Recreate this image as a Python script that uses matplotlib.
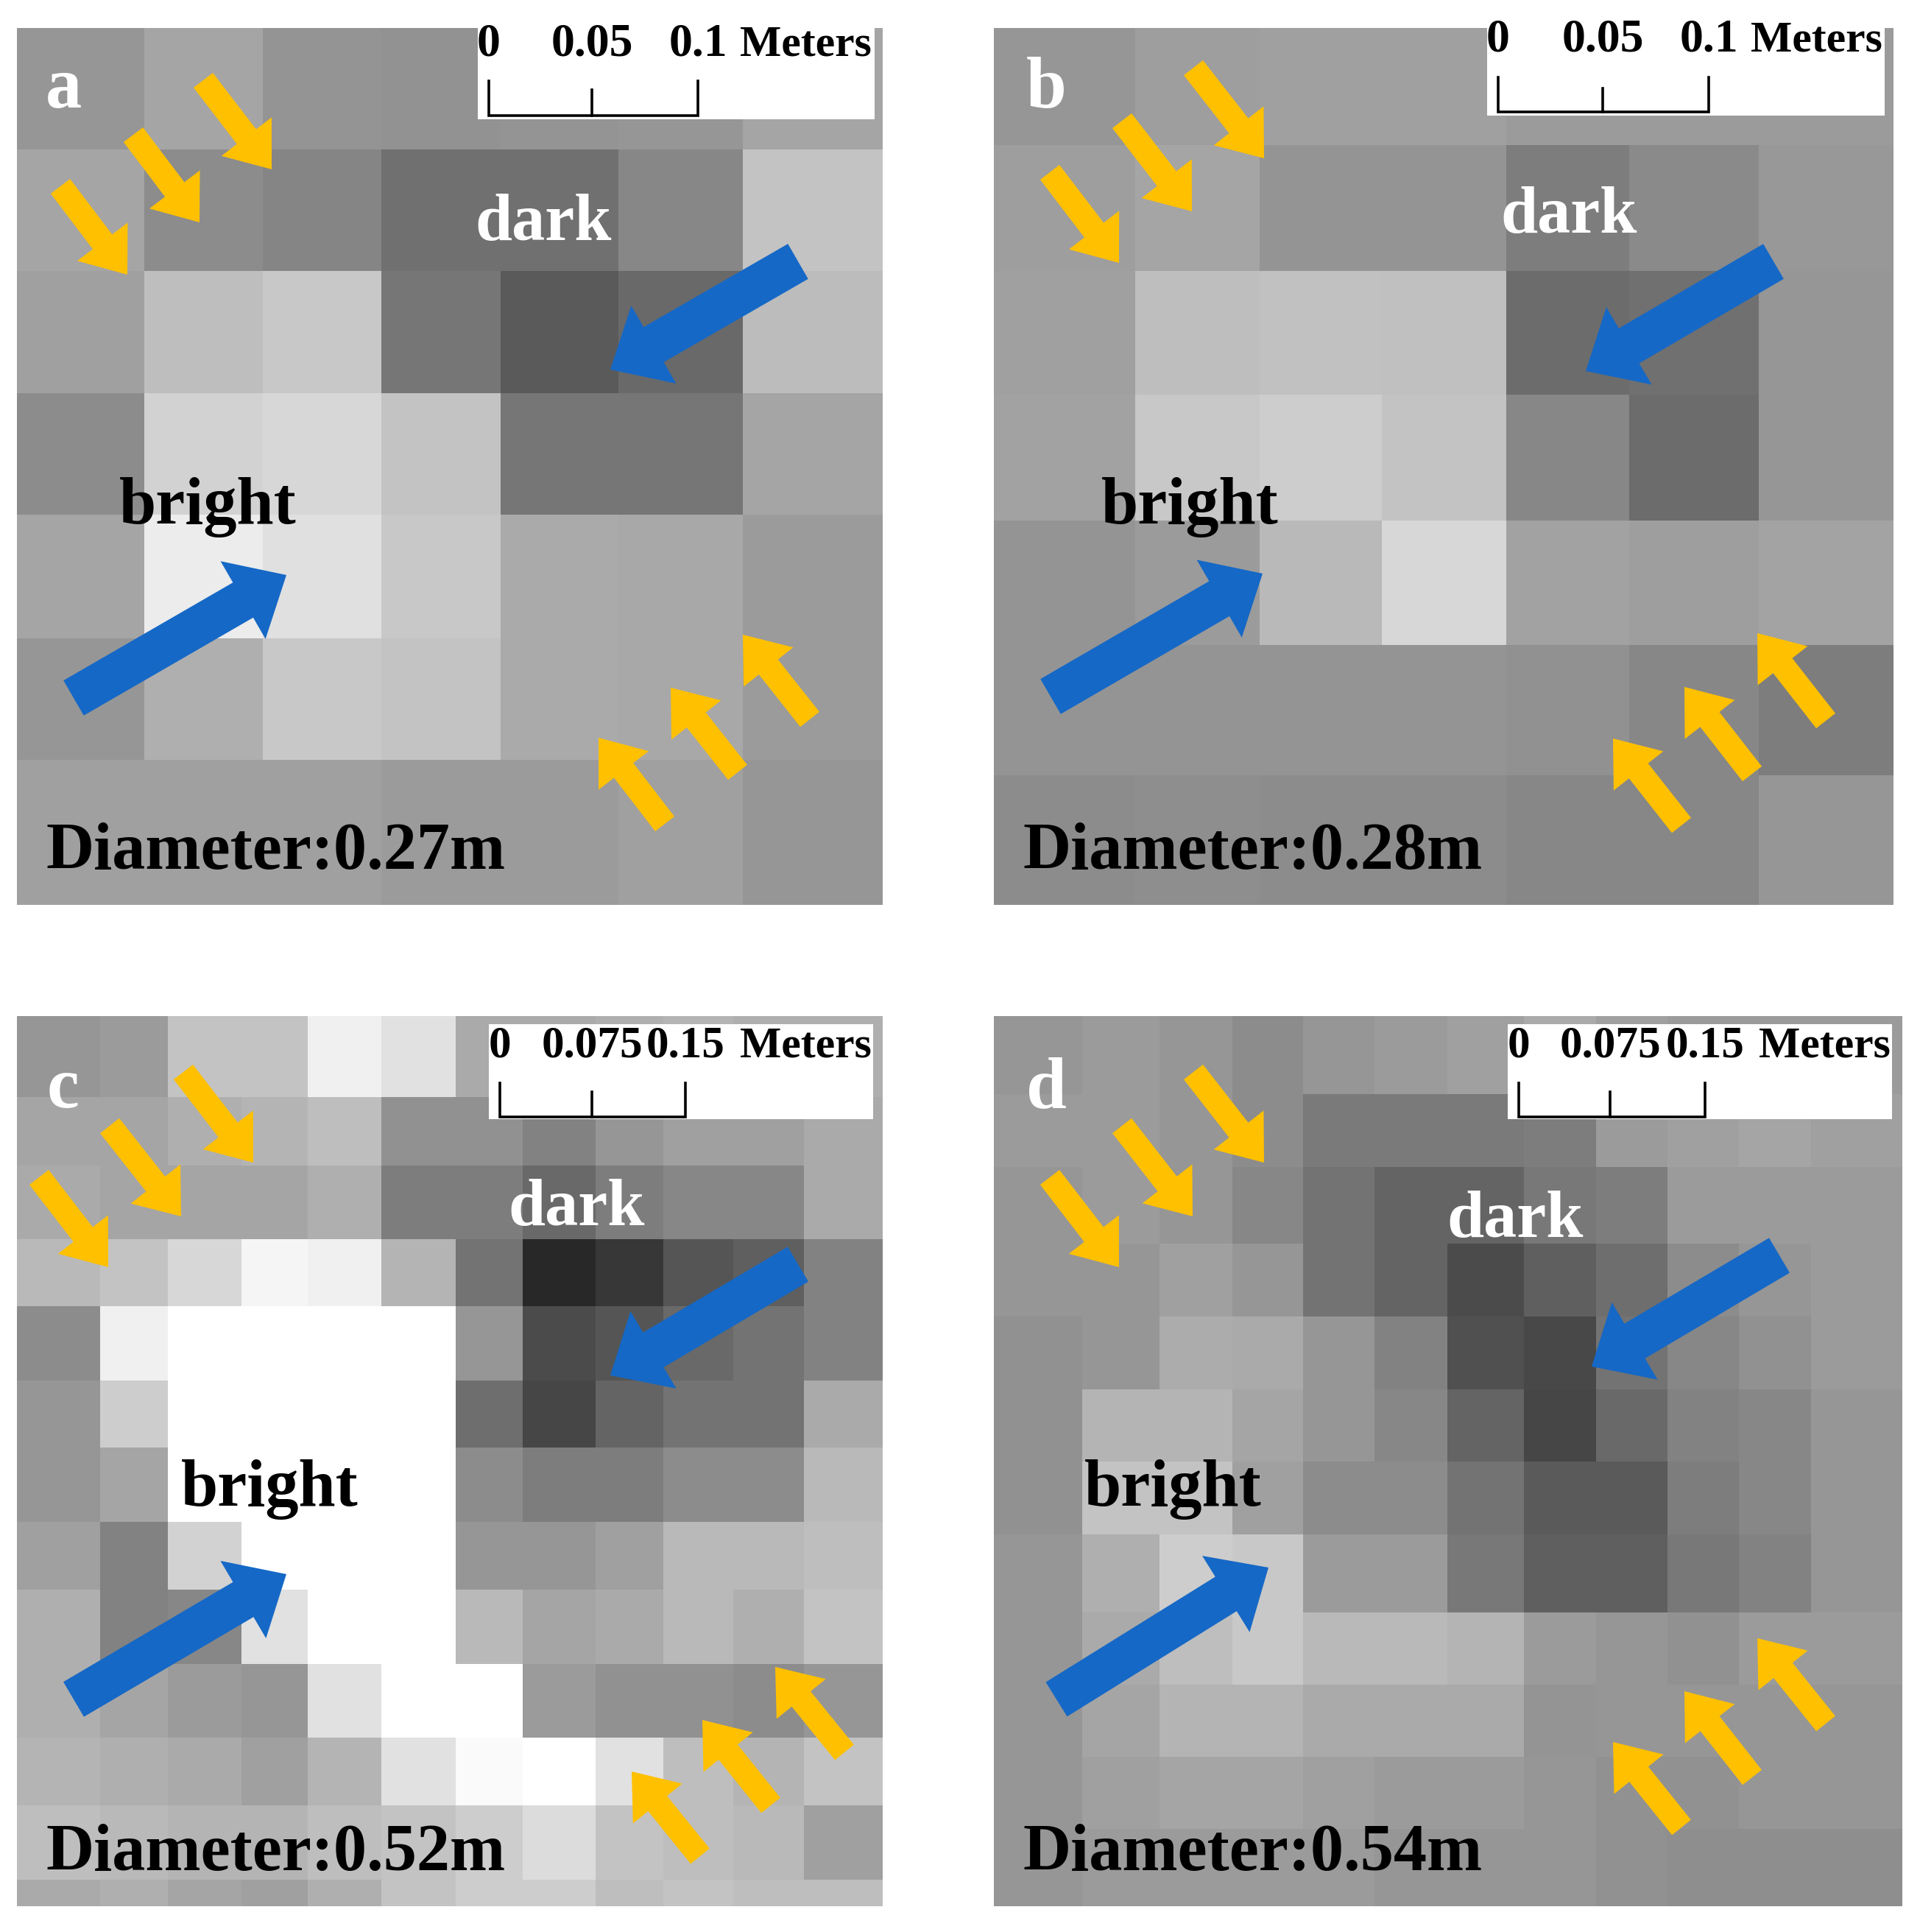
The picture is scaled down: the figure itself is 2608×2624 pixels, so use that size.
import numpy as np
import matplotlib
matplotlib.use('Agg')
import matplotlib.pyplot as plt
from matplotlib.patches import FancyArrow, Rectangle

plt.rcParams['font.family'] = ['Liberation Serif', 'DejaVu Serif']

# grey levels, one list per row
grey_a = [
    [150, 165, 148, 146, 148, 150, 165],
    [165, 140, 133, 112, 112, 135, 195],
    [160, 190, 200, 118, 90, 105, 188],
    [140, 210, 215, 195, 118, 118, 165],
    [165, 236, 224, 200, 170, 168, 155],
    [150, 175, 200, 195, 170, 168, 155],
    [160, 160, 160, 155, 155, 160, 150],
]
grey_b = [
    [150, 158, 160, 160, 155, 155, 155],
    [158, 165, 148, 148, 125, 138, 152],
    [160, 190, 193, 192, 108, 112, 150],
    [162, 200, 205, 195, 135, 108, 150],
    [148, 155, 185, 215, 162, 158, 163],
    [148, 148, 148, 148, 145, 135, 125],
    [140, 142, 140, 140, 135, 135, 150],
]
grey_c = [
    [150, 155, 195, 195, 240, 225, 170, 170, 175, 180, 175, 175],
    [165, 165, 175, 180, 190, 145, 145, 130, 150, 160, 160, 170],
    [170, 165, 165, 165, 175, 125, 125, 105, 125, 135, 135, 170],
    [185, 195, 215, 245, 240, 180, 115, 40, 55, 85, 95, 130],
    [140, 240, 255, 255, 255, 255, 150, 75, 85, 105, 115, 130],
    [150, 205, 255, 255, 255, 255, 110, 70, 100, 115, 115, 170],
    [150, 165, 255, 255, 255, 255, 140, 125, 125, 140, 140, 185],
    [160, 130, 210, 255, 255, 255, 150, 150, 160, 185, 185, 190],
    [175, 130, 135, 225, 255, 255, 185, 165, 170, 185, 175, 195],
    [175, 165, 155, 150, 225, 255, 255, 155, 145, 145, 140, 150],
    [180, 175, 170, 160, 180, 225, 250, 255, 225, 190, 180, 195],
    [190, 185, 180, 180, 190, 195, 205, 220, 195, 190, 185, 160],
    [170, 175, 165, 160, 175, 195, 205, 205, 190, 195, 190, 190],
]
grey_d = [
    [150, 155, 150, 140, 150, 155, 160, 170, 160, 155, 155, 155],
    [155, 155, 150, 140, 122, 122, 122, 125, 155, 160, 165, 160],
    [150, 155, 150, 135, 115, 100, 100, 120, 125, 155, 155, 155],
    [150, 150, 160, 150, 115, 100, 75, 95, 110, 140, 150, 155],
    [145, 150, 172, 170, 150, 130, 80, 72, 115, 135, 145, 155],
    [145, 180, 180, 165, 150, 135, 100, 70, 105, 130, 135, 150],
    [145, 195, 195, 160, 140, 140, 115, 90, 90, 125, 135, 150],
    [150, 175, 205, 200, 155, 155, 120, 95, 95, 120, 130, 150],
    [150, 170, 190, 200, 185, 185, 180, 155, 150, 145, 155, 155],
    [150, 165, 180, 180, 170, 170, 170, 148, 150, 150, 150, 150],
    [150, 160, 165, 165, 160, 155, 155, 150, 145, 145, 150, 150],
    [150, 155, 155, 155, 155, 150, 150, 150, 145, 142, 142, 142],
]

# cell edges of each panel (pixels)
xedges_a = [23, 196, 357, 518, 680, 840, 1009, 1199]
yedges_a = [38, 203, 368, 534, 699, 867, 1032, 1229]
xedges_b = [1350, 1542, 1711, 1877, 2046, 2213, 2389, 2572]
yedges_b = [38, 197, 368, 536, 707, 876, 1053, 1229]
xedges_c = [23, 136, 228, 328, 418, 518, 619, 710, 809, 901, 996, 1092, 1199]
yedges_c = [1380, 1490, 1583, 1683, 1774, 1875, 1966, 2067, 2159, 2260, 2360, 2452, 2553, 2589]
xedges_d = [1350, 1470, 1575, 1674, 1770, 1867, 1966, 2070, 2168, 2265, 2362, 2460, 2584]
yedges_d = [1380, 1486, 1585, 1689, 1788, 1887, 1985, 2084, 2190, 2288, 2386, 2484, 2589]

fig = plt.figure(figsize=(26.08, 26.24), dpi=100)
ax = fig.add_axes([0, 0, 1, 1])
ax.set_xlim(0, 2608)
ax.set_ylim(2624, 0)
ax.axis('off')

YELLOW = '#FFC000'
BLUE = '#1568C6'
SERIF = dict(fontweight='bold', va='baseline', ha='left')


def arrow(x0, y0, x1, y1, color, shaft, head_w, head_l):
    ax.add_patch(FancyArrow(x0, y0, x1 - x0, y1 - y0, width=shaft, head_width=head_w,
                            head_length=head_l, length_includes_head=True,
                            color=color, lw=0, zorder=3))


def panel(xe, ye, grey, letter, letter_pos, dark_pos, bright_pos, diam, diam_pos,
          yellow, blue, box, bar, bar_y, ticklabels, label_y, meters_x, scale_size):
    x_edges = np.array(xe)
    y_edges = np.array(ye)
    ax.pcolormesh(x_edges, y_edges, np.array(grey), cmap='gray', vmin=0, vmax=255, zorder=1)

    # scale bar box
    ax.add_patch(Rectangle((box[0], box[1]), box[2] - box[0], box[3] - box[1],
                           fc='white', ec='none', zorder=2))
    ax.plot([bar[0], bar[0], bar[2], bar[2]], [bar_y[1], bar_y[0], bar_y[0], bar_y[1]],
            color='black', lw=2.6, solid_joinstyle='miter', zorder=3)
    ax.plot([bar[1], bar[1]], [bar_y[0], bar_y[2]], color='black', lw=2.6, zorder=3)
    clip = Rectangle((box[0], box[1]), box[2] - box[0], box[3] - box[1], transform=ax.transData)
    for xt, lab in zip(bar, ticklabels):
        t = ax.text(xt, label_y, lab, fontsize=scale_size, fontweight='bold', ha='center',
                    va='baseline', color='black', zorder=4)
        t.set_clip_path(clip)
    t = ax.text(meters_x, label_y, 'Meters', fontsize=43, color='black', zorder=4, **SERIF)
    t.set_clip_path(clip)

    for a in yellow:
        arrow(*a, YELLOW, 33, 86, 56)
    for a in blue:
        arrow(*a, BLUE, 55, 122, 68)

    ax.text(*letter_pos, letter, fontsize=71, color='white', zorder=5, **SERIF)
    ax.text(*dark_pos, 'dark', fontsize=65, color='white', zorder=5, **SERIF)
    ax.text(*bright_pos, 'bright', fontsize=65, color='black', zorder=5, **SERIF)
    ax.text(*diam_pos, diam, fontsize=65, color='black', zorder=5, **SERIF)


panel(xedges_a, yedges_a, grey_a, 'a', (62, 146), (645, 326), (162, 711),
      'Diameter:0.27m', (62, 1180),
      [(82, 253, 173, 373), (181, 183, 271, 302), (276, 109, 369, 230),
       (903, 1119, 813, 1002), (1002, 1049, 911, 934), (1100, 977, 1009, 862)],
      [(100, 948, 389, 781), (1084, 355, 829, 502)],
      (649, 38, 1188, 162), (664, 804, 948), (157, 110, 122),
      ['0', '0.05', '0.1'], 75, 1005, 46)

panel(xedges_b, yedges_b, grey_b, 'b', (1394, 146), (2038, 316), (1496, 711),
      'Diameter:0.28m', (1389, 1180),
      [(1426, 234, 1520, 357), (1524, 164, 1619, 287), (1621, 92, 1717, 215),
       (2284, 1121, 2191, 1003), (2380, 1051, 2288, 933), (2480, 979, 2387, 860)],
      [(1427, 946, 1715, 779), (2409, 355, 2154, 504)],
      (2020, 38, 2560, 157), (2035, 2177, 2321), (152, 105, 120),
      ['0', '0.05', '0.1'], 69, 2378, 46)

panel(xedges_c, yedges_c, grey_c, 'c', (64, 1504), (690, 1664), (246, 2045),
      'Diameter:0.52m', (62, 2540),
      [(53, 1599, 147, 1721), (149, 1529, 246, 1652), (249, 1456, 344, 1579),
       (951, 2521, 858, 2406), (1047, 2452, 954, 2336), (1147, 2380, 1053, 2264)],
      [(100, 2308, 389, 2138), (1084, 1717, 829, 1868)],
      (664, 1391, 1186, 1520), (679, 804, 931), (1517, 1471, 1483),
      ['0', '0.075', '0.15'], 1435, 1005, 44)

panel(xedges_d, yedges_d, grey_d, 'd', (1394, 1504), (1965, 1680), (1473, 2045),
      'Diameter:0.54m', (1389, 2540),
      [(1426, 1599, 1520, 1721), (1524, 1529, 1620, 1652), (1621, 1456, 1717, 1579),
       (2284, 2482, 2191, 2366), (2380, 2414, 2288, 2297), (2480, 2341, 2387, 2225)],
      [(1435, 2308, 1723, 2129), (2417, 1705, 2162, 1856)],
      (2048, 1391, 2570, 1520), (2063, 2187, 2316), (1517, 1471, 1483),
      ['0', '0.075', '0.15'], 1435, 2389, 44)

fig.savefig('out.png', dpi=100)
